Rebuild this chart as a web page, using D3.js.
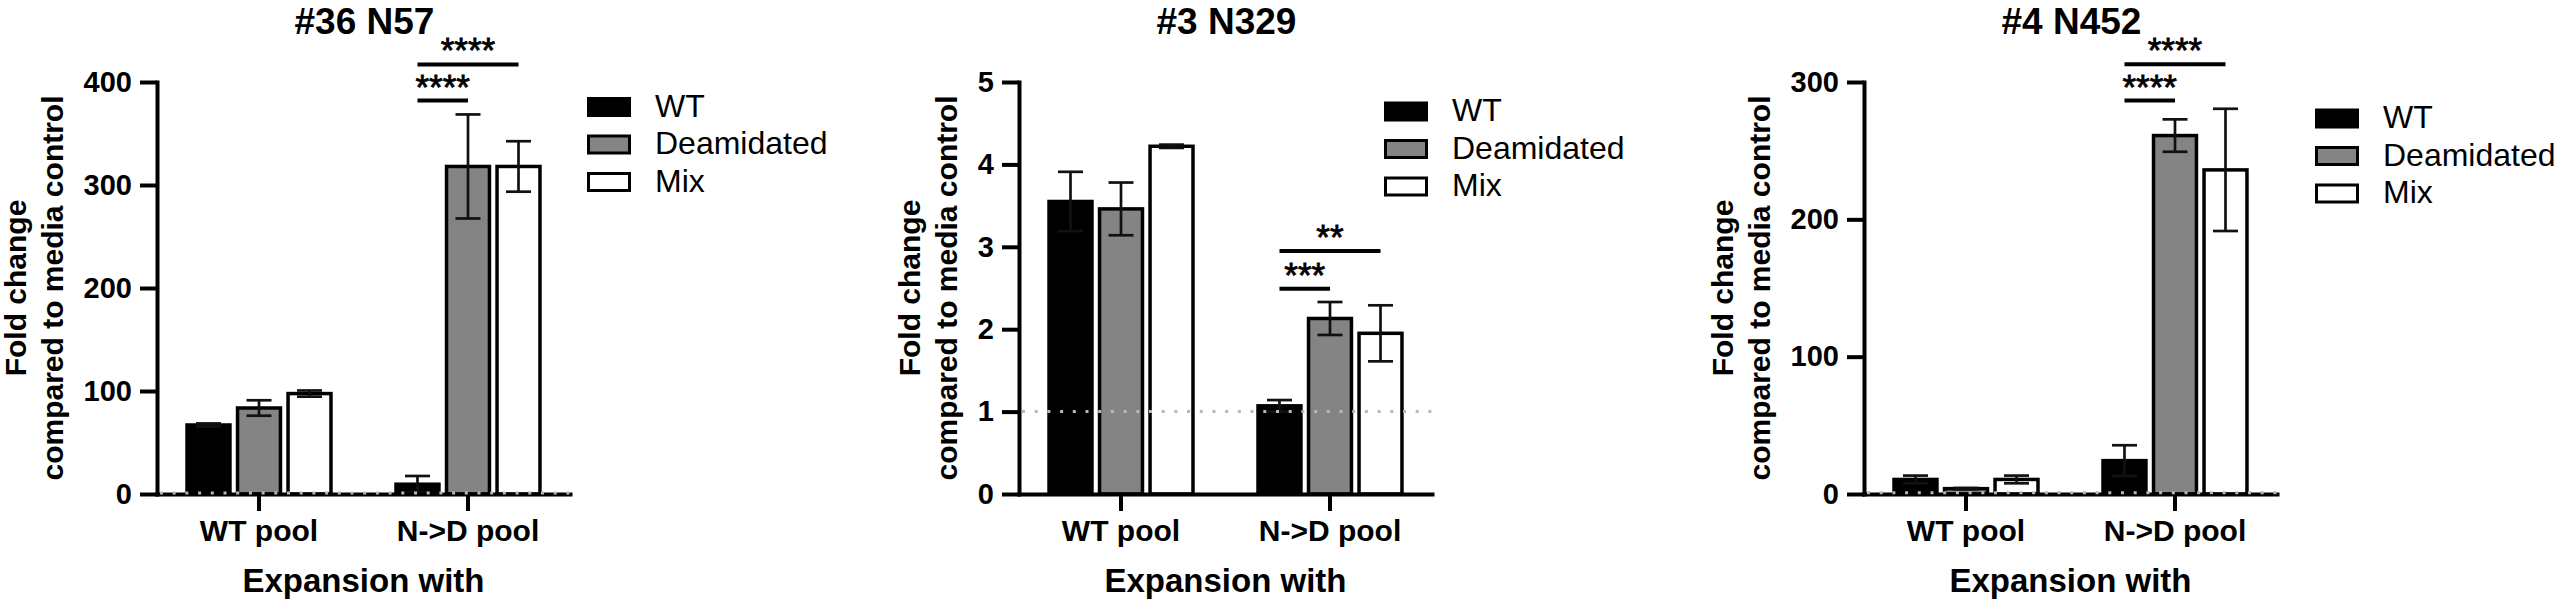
<!DOCTYPE html>
<html>
<head>
<meta charset="utf-8">
<script src="https://cdn.jsdelivr.net/npm/d3@7"></script>
<style>
body { margin: 0; background: #fff; }
text { font-family: "Liberation Sans", Arial, sans-serif; }
</style>
</head>
<body>
<div id="chart"></div>
<script>
// categories
var groups = ["WT pool", "N->D pool"];
var series = ["WT", "Deamidated", "Mix"];
var titles = ["#36 N57", "#3 N329", "#4 N452"];

// y axes
var y_max   = [400, 5, 300];
var y_ticks = [[0, 100, 200, 300, 400], [0, 1, 2, 3, 4, 5], [0, 100, 200, 300]];
var reference_value = 1;

// means and error bars, [group][series]
var means_n57   = [[67, 83.5, 97.5], [9.5, 318, 318]];
var errors_n57  = [[1.5, 7.5, 3], [8, 50.5, 24.5]];
var means_n329  = [[3.55, 3.46, 4.22], [1.07, 2.13, 1.95]];
var errors_n329 = [[0.36, 0.32, 0.02], [0.07, 0.2, 0.34]];
var means_n452  = [[10.6, 3.9, 10.6], [24.3, 261, 236]];
var errors_n452 = [[2.8, 0.5, 2.8], [11.2, 11.8, 44.5]];

// significance brackets: group, series from, series to, height, label
var sig_n57  = [[1, 0, 1, 382, "****"], [1, 0, 2, 417, "****"]];
var sig_n329 = [[1, 0, 1, 2.49, "***"], [1, 0, 2, 2.95, "**"]];
var sig_n452 = [[1, 0, 1, 286.5, "****"], [1, 0, 2, 313, "****"]];

var all_means  = [means_n57, means_n329, means_n452];
var all_errors = [errors_n57, errors_n329, errors_n452];
var all_sig    = [sig_n57, sig_n329, sig_n452];

// layout
var width       = 2559;
var height      = 601;
var plot_left   = [157, 1019, 1864];
var plot_width  = 413;
var plot_top    = 82;
var plot_bottom = 494;
var legend_pos  = [[587, 97], [1384, 101.5], [2315, 108.5]];

var fill = d3.scaleOrdinal().domain(series).range(["#000000", "#848484", "#ffffff"]);

var svg = d3.select("#chart").append("svg")
  .attr("width", width)
  .attr("height", height);

function draw_panel (p) {
  var left = plot_left[p];
  var g = svg.append("g").attr("class", "panel");

  var x0 = d3.scaleBand()
    .domain(groups)
    .range([left, left + plot_width])
    .paddingInner(0.287)
    .paddingOuter(0.1316);
  var x1 = d3.scaleBand()
    .domain(series)
    .range([0, x0.bandwidth()])
    .paddingInner(0.15)
    .paddingOuter(0.05);
  var y = d3.scaleLinear()
    .domain([0, y_max[p]])
    .range([plot_bottom, plot_top]);

  var rows = [];
  groups.forEach(function (grp, gi) {
    series.forEach(function (s, si) {
      rows.push({group: grp, series: s, mean: all_means[p][gi][si], err: all_errors[p][gi][si]});
    });
  });
  function cx (grp, s) {
    return x0(grp) + x1(s) + x1.bandwidth()/2;
  }

  // bars
  g.selectAll("rect.bar").data(rows).enter().append("rect")
    .attr("class", "bar")
    .attr("x", function (d) { return x0(d.group) + x1(d.series); })
    .attr("y", function (d) { return y(d.mean); })
    .attr("width", x1.bandwidth())
    .attr("height", function (d) { return y(0) - y(d.mean); })
    .attr("fill", function (d) { return fill(d.series); })
    .attr("stroke", "#000")
    .attr("stroke-width", 3.5);

  // error bars
  var cap = 25;
  var eb = g.selectAll("g.err").data(rows).enter().append("g")
    .attr("class", "err")
    .attr("stroke", "#111")
    .attr("stroke-width", 2.7);
  eb.append("line")
    .attr("x1", function (d) { return cx(d.group, d.series); })
    .attr("x2", function (d) { return cx(d.group, d.series); })
    .attr("y1", function (d) { return y(d.mean - d.err); })
    .attr("y2", function (d) { return y(d.mean + d.err); });
  eb.append("line")
    .attr("x1", function (d) { return cx(d.group, d.series) - cap/2; })
    .attr("x2", function (d) { return cx(d.group, d.series) + cap/2; })
    .attr("y1", function (d) { return y(d.mean + d.err); })
    .attr("y2", function (d) { return y(d.mean + d.err); });
  eb.append("line")
    .attr("x1", function (d) { return cx(d.group, d.series) - cap/2; })
    .attr("x2", function (d) { return cx(d.group, d.series) + cap/2; })
    .attr("y1", function (d) { return y(d.mean - d.err); })
    .attr("y2", function (d) { return y(d.mean - d.err); });

  // axes
  var y_axis = g.append("g")
    .attr("transform", "translate(" + left + ",0)")
    .call(d3.axisLeft(y).tickValues(y_ticks[p]).tickFormat(d3.format("d"))
      .tickSize(17).tickSizeOuter(0).tickPadding(8));
  var x_axis = g.append("g")
    .attr("transform", "translate(0," + plot_bottom + ")")
    .call(d3.axisBottom(x0).tickSize(17).tickSizeOuter(0).tickPadding(9));
  [y_axis, x_axis].forEach(function (a) {
    a.select(".domain").attr("stroke", "#000").attr("stroke-width", 4).attr("stroke-linecap", "square");
    a.selectAll(".tick line").attr("stroke", "#000").attr("stroke-width", 4);
    a.selectAll(".tick text")
      .attr("fill", "#000")
      .style("font-family", "'Liberation Sans', Arial, sans-serif")
      .style("font-weight", "bold");
  });
  y_axis.selectAll(".tick text").style("font-size", "29px");
  x_axis.selectAll(".tick text").style("font-size", "30px");

  // dotted reference line at 1
  g.append("line")
    .attr("x1", left + 3)
    .attr("x2", left + plot_width)
    .attr("y1", y(reference_value))
    .attr("y2", y(reference_value))
    .attr("stroke", "#b8b8b8")
    .attr("stroke-width", 3)
    .attr("stroke-dasharray", "3,9.7");

  // significance brackets
  all_sig[p].forEach(function (s) {
    var grp = groups[s[0]];
    var xa = cx(grp, series[s[1]]);
    var xb = cx(grp, series[s[2]]);
    var yy = y(s[3]);
    g.append("line")
      .attr("x1", xa).attr("x2", xb)
      .attr("y1", yy).attr("y2", yy)
      .attr("stroke", "#000")
      .attr("stroke-width", 4);
    g.append("text")
      .attr("x", (xa + xb)/2)
      .attr("y", yy - 2)
      .attr("text-anchor", "middle")
      .style("font-size", "35px")
      .attr("fill", "#000")
      .attr("stroke", "#000")
      .attr("stroke-width", 0.8)
      .text(s[4]);
  });

  // y axis title, placed from the tick label extent
  var bb = y_axis.node().getBBox();
  var line2_x = left + bb.x - 31;
  var y_mid = (plot_top + plot_bottom)/2;
  ["Fold change", "compared to media control"].forEach(function (t, i) {
    g.append("text")
      .attr("transform", "translate(" + (line2_x - 37*(1 - i)) + "," + y_mid + ") rotate(-90)")
      .attr("dy", "0.35em")
      .attr("text-anchor", "middle")
      .style("font-size", "30px")
      .style("font-weight", "bold")
      .text(t);
  });

  // x axis title
  g.append("text")
    .attr("x", left + plot_width/2)
    .attr("y", 592)
    .attr("text-anchor", "middle")
    .style("font-size", "33px")
    .style("font-weight", "bold")
    .text("Expansion with");

  // panel title
  g.append("text")
    .attr("x", left + plot_width/2 + 1)
    .attr("y", 33.5)
    .attr("text-anchor", "middle")
    .style("font-size", "37px")
    .style("font-weight", "bold")
    .text(titles[p]);

  // legend
  var lg = g.append("g")
    .attr("transform", "translate(" + legend_pos[p][0] + "," + legend_pos[p][1] + ")");
  var item = lg.selectAll("g").data(series).enter().append("g")
    .attr("transform", function (d, i) { return "translate(0," + (i*37.5) + ")"; });
  item.append("rect")
    .attr("x", 1.5).attr("y", 1.5)
    .attr("width", 41).attr("height", 17)
    .attr("fill", function (d) { return fill(d); })
    .attr("stroke", "#000")
    .attr("stroke-width", 3);
  item.append("text")
    .attr("x", 68)
    .attr("y", 19.5)
    .style("font-size", "32px")
    .text(function (d) { return d; });
}

titles.forEach(function (t, p) {
  draw_panel(p);
});
</script>
</body>
</html>
